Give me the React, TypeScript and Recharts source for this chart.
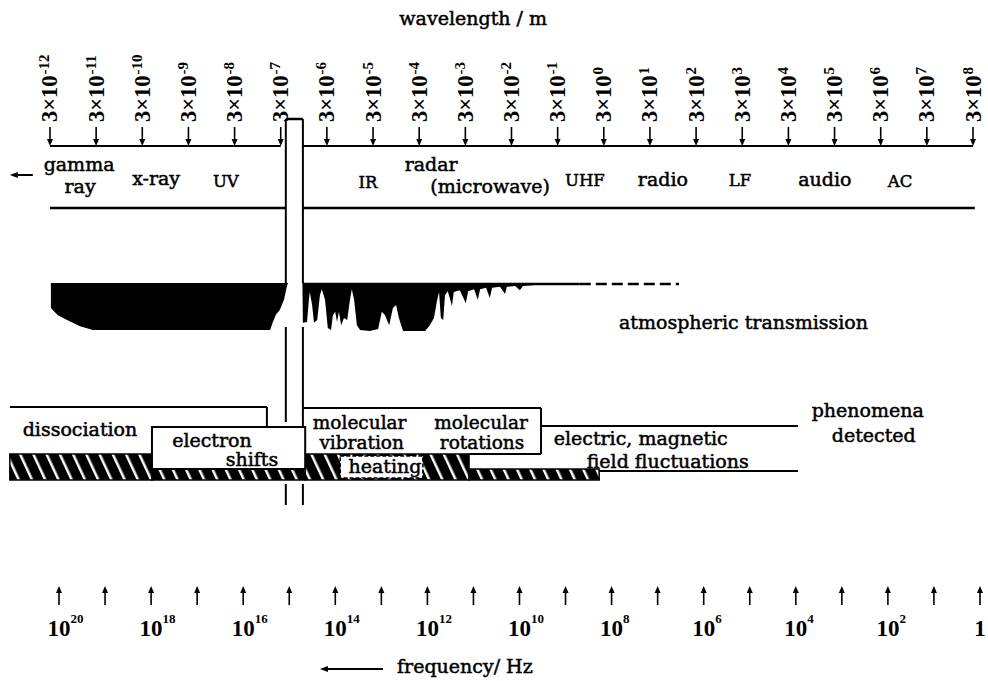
import React from "react";
import {
  ComposedChart,
  Area,
  XAxis,
  YAxis,
  ReferenceLine,
  ReferenceArea,
  ReferenceDot,
} from "recharts";

const SERIF = "'DejaVu Serif', serif";
const NUM = "'Liberation Serif', serif";

// top scale: wavelength = 3 x 10^n m
const wavelengthExps = [-12, -11, -10, -9, -8, -7, -6, -5, -4, -3, -2, -1, 0, 1, 2, 3, 4, 5, 6, 7, 8];
// bottom scale: frequency = 10^n Hz
const freqExps = [20, 19, 18, 17, 16, 15, 14, 13, 12, 11, 10, 9, 8, 7, 6, 5, 4, 3, 2, 1, 0];
const freqLabelExps = [20, 18, 16, 14, 12, 10, 8, 6, 4, 2, 0];

// band names and where they sit on the wavelength scale (exponent n)
const bandNames = ["gamma\nray", "x-ray", "UV", "IR", "radar\n(microwave)", "UHF", "radio", "LF", "audio", "AC"];
const bandCentres = [-11.37, -9.7, -8.19, -5.11, -3.74, -0.41, 1.28, 2.95, 4.79, 6.42];
const bandCaps = [false, false, true, true, false, true, false, true, false, true];

// visible light window (exponent n)
const visibleWindow = [-6.89, -6.52];

// atmospheric opacity along the wavelength scale (0 = clear, 1 = opaque)
const atmExp = [
  -11.98, -11.83, -11.63, -11.35, -11.07, -7.23, -7.17, -7.1, -7.02, -6.93, -6.86, -6.84,
  -6.53, -6.52, -6.43, -6.39, -6.37, -6.32, -6.28, -6.21, -6.15, -6.11, -6.04, -5.98, -5.91,
  -5.87, -5.82, -5.78, -5.74, -5.69, -5.63, -5.56, -5.5, -5.46, -5.41, -5.35, -5.28, -5.07,
  -4.89, -4.81, -4.74, -4.65, -4.57, -4.5, -4.44, -4.35, -4.09, -3.87, -3.77, -3.68, -3.61,
  -3.57, -3.53, -3.48, -3.44, -3.38, -3.29, -3.25, -3.12, -2.99, -2.94, -2.81, -2.73, -2.68,
  -2.55, -2.47, -2.42, -2.25, -2.14, -2.1, -1.92, -1.82, -1.75, -1.49, -1.27, -1.04, -0.52,
];
const atmOpacity = [
  0.52, 0.67, 0.77, 0.9, 0.98, 0.98, 0.81, 0.65, 0.56, 0.35, 0.04, 0,
  0, 0.83, 0.81, 0.35, 0.19, 0.46, 0.83, 0.77, 0.25, 0.13, 0.35, 0.94, 0.98,
  0.67, 0.6, 0.81, 0.6, 0.88, 0.73, 0.77, 0.35, 0.13, 0.35, 0.88, 0.98, 1.0,
  0.96, 0.6, 0.67, 0.88, 0.52, 0.46, 0.73, 1.0, 1.0, 1.0, 0.88, 0.73, 0.35,
  0.19, 0.73, 0.77, 0.25, 0.17, 0.48, 0.19, 0.15, 0.42, 0.17, 0.13, 0.35, 0.13,
  0.1, 0.31, 0.1, 0.08, 0.23, 0.08, 0.06, 0.15, 0.06, 0.04, 0.02, 0.02, 0,
];
const atmSolidEnd = -0.52;
const atmDashedEnd = 1.63;

// phenomena detected: wavelength ranges (exponent n)
const dissociation = [-12.87, -7.3];
const electronShifts = [-9.79, -6.47];
const molecularMotion = [-6.52, -1.36];
const heating = [-5.71, -3.92];
const fieldFluctuations = [-1.36, 4.21];
const hatchedFull = [[-12.87, -9.79], [-6.47, -2.92]];
const hatchedThin = [[-9.79, -6.47], [-2.92, -0.1]];

const phenTexts = ["dissociation", "electron\nshifts", "molecular\nvibration", "molecular\nrotations", "heating", "electric, magnetic\nfield fluctuations", "phenomena\ndetected"];
const phenCentres = [-11.35, -8.49, -5.29, -2.66, -4.74, 0.8, 5.72];

const atmTable = atmExp.map((e, i) => ({ e, opacity: atmOpacity[i] }));

// vertical layout (pixel rows of the page)
const Y = {
  title: 25,
  tickText: 122,
  tickArrowTop: 127,
  scaleLine: 146,
  windowTop: 119,
  bandLine: 208,
  atmTop: 283,
  atmGapBottom: 327,
  atmLabel: 329,
  dissTop: 407,
  molTop: 408,
  fieldTop: 426,
  boxTop: 427,
  hatchTop: 454,
  thinTop: 469,
  fieldBottom: 471,
  hatchBottom: 480,
  heatTop: 456,
  heatBottom: 478,
  winLowTop: 484,
  winLowBottom: 505,
  freqArrowTop: 586,
  freqArrowBottom: 605,
  freqLabel: 636,
  freqTitle: 673,
  freqArrow: 669,
};
const bandBaselines = [171, 185, 187, 188, 171, 186, 186, 186, 186, 187];
const bandSecond: Record<number, [number, number]> = { 0: [1, 22], 4: [59, 22] };
const phenBaselines = [436, 447, 428.5, 428.5, 473, 445, 417];
const phenSizes = [19, 19, 18.5, 18.5, 19, 19, 19];
const phenSecond: Record<number, [number, number]> = {
  1: [40, 19],
  2: [2, 20],
  3: [1, 20],
  5: [27, 23],
  6: [6, 25],
};

function TopTick(props: any) {
  const { x, payload } = props;
  const v = payload.value as number;
  return (
    <g>
      <text
        transform={`translate(${x + 7.5},${Y.tickText}) rotate(-90)`}
        fontFamily={NUM}
        fontWeight="bold"
        fontSize={22.5}
        fill="#000"
      >
        3×10
        <tspan dx={1} dy={-8} fontSize={15}>
          {v < 0 ? `-${-v}` : `${v}`}
        </tspan>
      </text>
      <line x1={x} y1={Y.tickArrowTop} x2={x} y2={Y.scaleLine - 6} stroke="#000" strokeWidth={1.6} />
      <path d={`M${x - 3},${Y.scaleLine - 7} L${x + 3},${Y.scaleLine - 7} L${x},${Y.scaleLine} Z`} fill="#000" />
    </g>
  );
}

function BottomTick(props: any) {
  const { x, payload } = props;
  const v = payload.value as number;
  const labelled = freqLabelExps.includes(v);
  return (
    <g>
      <line x1={x} y1={Y.freqArrowTop + 6} x2={x} y2={Y.freqArrowBottom} stroke="#000" strokeWidth={1.6} />
      <path d={`M${x - 3},${Y.freqArrowTop + 7} L${x + 3},${Y.freqArrowTop + 7} L${x},${Y.freqArrowTop} Z`} fill="#000" />
      {labelled && v === 0 && (
        <text x={x} y={Y.freqLabel} textAnchor="middle" fontFamily={NUM} fontWeight="bold" fontSize={23} fill="#000">
          1
        </text>
      )}
      {labelled && v !== 0 && (
        <text x={x - 11.5} y={Y.freqLabel} fontFamily={NUM} fontWeight="bold" fontSize={23} fill="#000">
          10
          <tspan dy={-13} fontSize={13}>
            {v}
          </tspan>
        </text>
      )}
    </g>
  );
}

const ink = { stroke: "#000", strokeWidth: 2 };

function seg(key: string, x1: number, y1: number, x2: number, y2: number, extra: any = {}) {
  return (
    <ReferenceLine
      key={key}
      xAxisId="w"
      yAxisId="lay"
      segment={[{ x: x1, y: y1 }, { x: x2, y: y2 }]}
      {...ink}
      {...extra}
    />
  );
}

function label(key: string, e: number, y: number, text: string, opts: any = {}) {
  const { anchor = "middle", size = 19, second = [0, 0] } = opts;
  const lines = text.split("\n");
  return (
    <ReferenceDot
      key={key}
      xAxisId="w"
      yAxisId="lay"
      x={e}
      y={y}
      r={0}
      shape={(p: any) => (
        <text
          x={p.cx}
          y={p.cy}
          textAnchor={anchor}
          fontFamily={SERIF}
          fontSize={size}
          fill="#000"
          stroke="#000"
          strokeWidth={0.5}
        >
          {lines.length === 1
            ? lines[0]
            : lines.map((l, i) => (
                <tspan key={i} x={p.cx + (i ? second[0] : 0)} y={p.cy + (i ? second[1] : 0)}>
                  {l}
                </tspan>
              ))}
        </text>
      )}
    />
  );
}

function arrowLeft(key: string, e: number, y: number, len: number) {
  return (
    <ReferenceDot
      key={key}
      xAxisId="w"
      yAxisId="lay"
      x={e}
      y={y}
      r={0}
      shape={(p: any) => (
        <g>
          <line x1={p.cx + 5} y1={p.cy} x2={p.cx + len} y2={p.cy} stroke="#000" strokeWidth={2} />
          <path d={`M${p.cx},${p.cy} L${p.cx + 8},${p.cy - 3} L${p.cx + 8},${p.cy + 3} Z`} fill="#000" />
        </g>
      )}
    />
  );
}

export default function App() {
  const [wl, wr] = visibleWindow;
  return (
    <div style={{ position: "absolute", left: 0, top: 0, width: 988, height: 681, background: "#fff" }}>
      <ComposedChart width={988} height={681} data={atmTable} margin={{ top: 0, right: 0, bottom: 0, left: 0 }}>
        <defs>
          <pattern id="hatch" patternUnits="userSpaceOnUse" width="12" height="12" patternTransform="rotate(-25)">
            <rect width="12" height="12" fill="#000" />
            <rect x="5" width="2.5" height="12" fill="#fff" />
          </pattern>
        </defs>

        <XAxis
          xAxisId="w"
          dataKey="e"
          type="number"
          orientation="top"
          domain={[-13.083, 8.325]}
          allowDataOverflow
          ticks={wavelengthExps}
          interval={0}
          tick={(p: any) => <TopTick {...p} />}
          tickLine={false}
          axisLine={false}
          height={1}
        />
        <XAxis
          xAxisId="f"
          dataKey="freqExp"
          type="number"
          orientation="bottom"
          reversed
          domain={[-0.174, 21.281]}
          allowDataOverflow
          ticks={freqExps}
          interval={0}
          tick={(p: any) => <BottomTick {...p} />}
          tickLine={false}
          axisLine={false}
          height={1}
        />
        {/* plot area runs from row 1 to row 680 */}
        <YAxis yAxisId="atm" hide type="number" reversed domain={[-5.875, 8.271]} allowDataOverflow />
        <YAxis yAxisId="lay" hide type="number" reversed domain={[1, 680]} allowDataOverflow />

        {/* atmospheric transmission */}
        <Area
          xAxisId="w"
          yAxisId="atm"
          dataKey="opacity"
          type="linear"
          stroke="none"
          fill="#000"
          fillOpacity={1}
          baseValue={0}
          dot={false}
          activeDot={false}
          isAnimationActive={false}
        />
        <ReferenceLine
          xAxisId="w"
          yAxisId="atm"
          segment={[{ x: wr, y: 0.02 }, { x: atmSolidEnd, y: 0.02 }]}
          stroke="#000"
          strokeWidth={2.5}
        />
        <ReferenceLine
          xAxisId="w"
          yAxisId="atm"
          segment={[{ x: atmSolidEnd, y: 0.02 }, { x: atmDashedEnd, y: 0.02 }]}
          stroke="#000"
          strokeWidth={2.5}
          strokeDasharray="11 5"
        />

        {/* scale lines */}
        {seg("s1", wavelengthExps[0], Y.scaleLine, -7, Y.scaleLine)}
        {seg("s2", wr, Y.scaleLine, wavelengthExps[wavelengthExps.length - 1], Y.scaleLine)}
        {seg("b1", wavelengthExps[0], Y.bandLine, wl, Y.bandLine, { strokeWidth: 2.5 })}
        {seg("b2", wr, Y.bandLine, 8.04, Y.bandLine, { strokeWidth: 2.5 })}

        {/* visible window */}
        {seg("w0", wl, Y.windowTop, wr, Y.windowTop, { strokeWidth: 2.5 })}
        {seg("w1", wl, Y.windowTop, wl, Y.atmTop)}
        {seg("w2", wr, Y.windowTop, wr, Y.atmTop)}
        {seg("w3", wl, Y.atmGapBottom, wl, 422)}
        {seg("w4", wr, Y.atmGapBottom, wr, Y.boxTop)}
        {seg("w5", wl, Y.winLowTop, wl, Y.winLowBottom)}
        {seg("w6", wr, Y.winLowTop, wr, Y.winLowBottom)}

        {/* phenomena */}
        {hatchedFull.map(([a, b], i) => (
          <ReferenceArea
            key={`hf${i}`}
            xAxisId="w"
            yAxisId="lay"
            x1={a}
            x2={b}
            y1={Y.hatchTop}
            y2={Y.hatchBottom}
            fill="url(#hatch)"
            fillOpacity={1}
            stroke="#000"
            strokeWidth={1.5}
          />
        ))}
        {hatchedThin.map(([a, b], i) => (
          <ReferenceArea
            key={`ht${i}`}
            xAxisId="w"
            yAxisId="lay"
            x1={a}
            x2={b}
            y1={Y.thinTop}
            y2={Y.hatchBottom}
            fill="url(#hatch)"
            fillOpacity={1}
            stroke="#000"
            strokeWidth={1.5}
          />
        ))}
        <ReferenceArea
          xAxisId="w"
          yAxisId="lay"
          x1={electronShifts[0]}
          x2={electronShifts[1]}
          y1={Y.boxTop}
          y2={Y.thinTop}
          fill="#fff"
          fillOpacity={1}
          stroke="#000"
          strokeWidth={2}
        />
        <ReferenceArea
          xAxisId="w"
          yAxisId="lay"
          x1={heating[0]}
          x2={heating[1]}
          y1={Y.heatTop}
          y2={Y.heatBottom}
          fill="#fff"
          fillOpacity={1}
          stroke="#000"
          strokeWidth={1.5}
          strokeDasharray="4 2"
        />
        {seg("d1", dissociation[0], Y.dissTop, dissociation[1], Y.dissTop)}
        {seg("d2", dissociation[1], Y.dissTop, dissociation[1], Y.boxTop)}
        {seg("m1", molecularMotion[0], Y.molTop, molecularMotion[1], Y.molTop)}
        {seg("m2", molecularMotion[1], Y.molTop, molecularMotion[1], Y.hatchTop)}
        {seg("m3", hatchedFull[1][1], Y.hatchTop, molecularMotion[1], Y.hatchTop)}
        {seg("f1", fieldFluctuations[0], Y.fieldTop, fieldFluctuations[1], Y.fieldTop)}
        {seg("f2", hatchedThin[1][1], Y.fieldBottom, fieldFluctuations[1], Y.fieldBottom)}

        {/* texts */}
        {label("title", -2.83, Y.title, "wavelength / m")}
        {arrowLeft("ga", -12.87, 175, 23)}
        {bandNames.map((t, i) =>
          label(`band${i}`, bandCentres[i], bandBaselines[i], t, {
            size: bandCaps[i] ? 16.5 : 19,
            second: bandSecond[i],
          })
        )}
        {label("atm", 0.33, Y.atmLabel, "atmospheric transmission", { anchor: "start" })}
        {phenTexts.map((t, i) =>
          label(`ph${i}`, phenCentres[i], phenBaselines[i], t, { second: phenSecond[i], size: phenSizes[i] })
        )}
        {arrowLeft("fa", -6.15, Y.freqArrow, 63)}
        {label("freq", -4.48, Y.freqTitle, "frequency/ Hz", { anchor: "start" })}
      </ComposedChart>
    </div>
  );
}
